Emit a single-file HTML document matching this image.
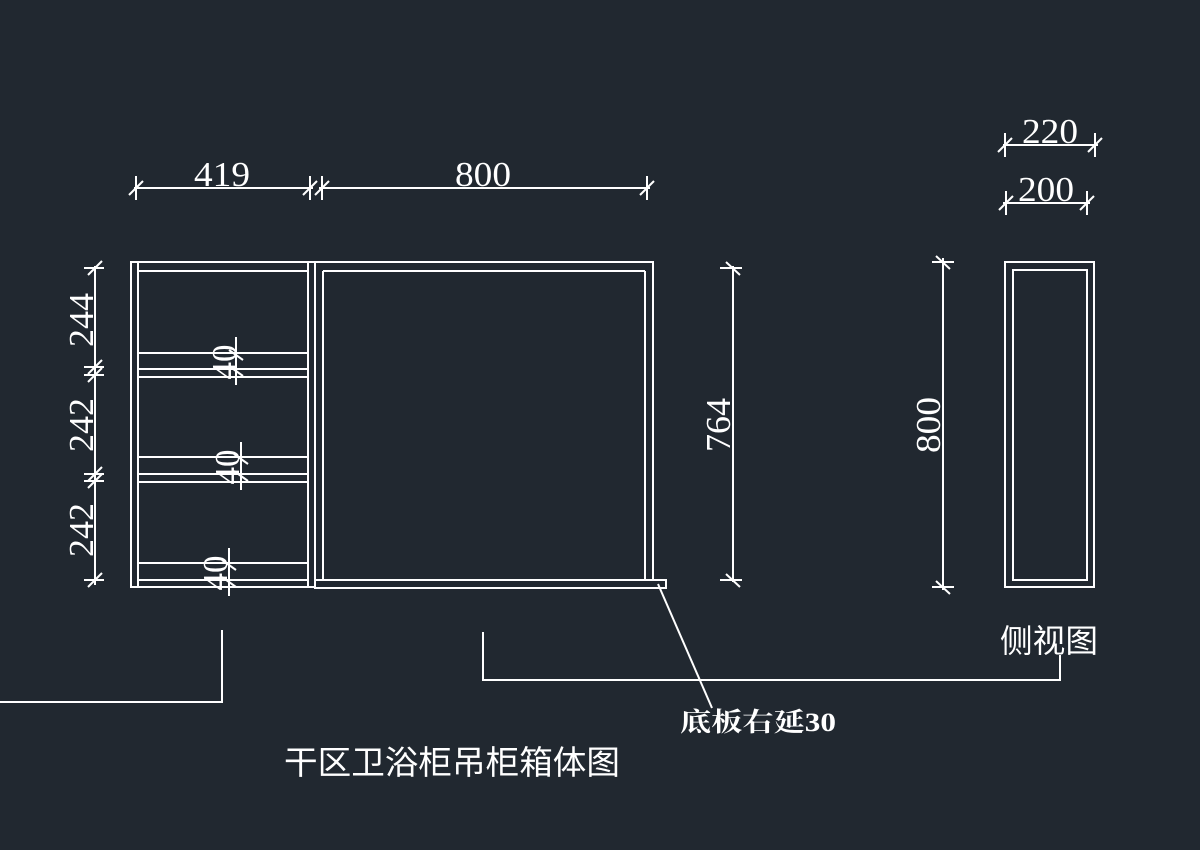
<!DOCTYPE html>
<html><head><meta charset="utf-8"><style>
html,body{margin:0;padding:0;background:#212830;}
svg{display:block}
text{fill:#fff;font-family:"Liberation Serif",serif;}
</style></head><body>
<svg width="1200" height="850" viewBox="0 0 1200 850" xmlns="http://www.w3.org/2000/svg">
<rect width="1200" height="850" fill="#212830"/>
<g stroke="#fff" stroke-width="2" fill="none">
<rect x="131" y="262" width="184" height="325"/>
<line x1="138" y1="262" x2="138" y2="587"/>
<line x1="308" y1="262" x2="308" y2="587"/>
<line x1="138" y1="271" x2="308" y2="271"/>
<line x1="138" y1="353" x2="308" y2="353"/>
<line x1="138" y1="369" x2="308" y2="369"/>
<line x1="138" y1="377" x2="308" y2="377"/>
<line x1="138" y1="457" x2="308" y2="457"/>
<line x1="138" y1="474" x2="308" y2="474"/>
<line x1="138" y1="482" x2="308" y2="482"/>
<line x1="138" y1="563" x2="308" y2="563"/>
<line x1="138" y1="580" x2="308" y2="580"/>
<rect x="315" y="262" width="338" height="318"/>
<line x1="323" y1="271" x2="645" y2="271"/>
<line x1="323" y1="271" x2="323" y2="580"/>
<line x1="645" y1="271" x2="645" y2="580"/>
<rect x="315" y="580" width="351" height="8"/>
<line x1="658" y1="584" x2="712" y2="708"/>
<rect x="1005" y="262" width="89" height="325"/>
<rect x="1013" y="270" width="74" height="310"/>
<line x1="95" y1="266" x2="95" y2="585"/>
<line x1="84" y1="268" x2="104" y2="268"/><line x1="88" y1="275" x2="102" y2="261"/>
<line x1="84" y1="367" x2="104" y2="367"/><line x1="88" y1="374" x2="102" y2="360"/>
<line x1="84" y1="375" x2="104" y2="375"/><line x1="88" y1="382" x2="102" y2="368"/>
<line x1="84" y1="474" x2="104" y2="474"/><line x1="88" y1="481" x2="102" y2="467"/>
<line x1="84" y1="481" x2="104" y2="481"/><line x1="88" y1="488" x2="102" y2="474"/>
<line x1="84" y1="580" x2="104" y2="580"/><line x1="88" y1="587" x2="102" y2="573"/>
<line x1="236" y1="337" x2="236" y2="385"/><line x1="229" y1="350" x2="243" y2="360"/><line x1="229" y1="366" x2="243" y2="376"/>
<line x1="241" y1="442" x2="241" y2="490"/><line x1="234" y1="454" x2="248" y2="464"/><line x1="234" y1="471" x2="248" y2="481"/>
<line x1="229" y1="548" x2="229" y2="596"/><line x1="222" y1="560" x2="236" y2="570"/><line x1="222" y1="577" x2="236" y2="587"/>
<line x1="134" y1="188" x2="313" y2="188"/>
<line x1="136" y1="176" x2="136" y2="200"/><line x1="129" y1="195" x2="143" y2="181"/>
<line x1="310" y1="176" x2="310" y2="200"/><line x1="303" y1="195" x2="317" y2="181"/>
<line x1="319" y1="188" x2="650" y2="188"/>
<line x1="322" y1="176" x2="322" y2="200"/><line x1="315" y1="195" x2="329" y2="181"/>
<line x1="647" y1="176" x2="647" y2="200"/><line x1="640" y1="195" x2="654" y2="181"/>
<line x1="733" y1="266" x2="733" y2="582"/>
<line x1="720" y1="268" x2="742" y2="268"/><line x1="726" y1="262" x2="740" y2="275"/>
<line x1="720" y1="580" x2="742" y2="580"/><line x1="726" y1="574" x2="740" y2="587"/>
<line x1="943" y1="258" x2="943" y2="590"/>
<line x1="932" y1="262" x2="954" y2="262"/><line x1="936" y1="256" x2="950" y2="269"/>
<line x1="932" y1="587" x2="954" y2="587"/><line x1="936" y1="581" x2="950" y2="594"/>
<line x1="1003" y1="145" x2="1098" y2="145"/>
<line x1="1005" y1="133" x2="1005" y2="157"/><line x1="998" y1="152" x2="1012" y2="138"/>
<line x1="1095" y1="133" x2="1095" y2="157"/><line x1="1088" y1="152" x2="1102" y2="138"/>
<line x1="1003" y1="203" x2="1090" y2="203"/>
<line x1="1006" y1="191" x2="1006" y2="215"/><line x1="999" y1="210" x2="1013" y2="196"/>
<line x1="1087" y1="191" x2="1087" y2="215"/><line x1="1080" y1="210" x2="1094" y2="196"/>
<polyline points="0,702 222,702 222,630"/>
<polyline points="483,632 483,680 1060,680 1060,655"/>
</g>
<g font-size="35">
<text x="222" y="186" text-anchor="middle" textLength="56" lengthAdjust="spacingAndGlyphs">419</text>
<text x="483" y="186" text-anchor="middle" textLength="56" lengthAdjust="spacingAndGlyphs">800</text>
<text x="1050" y="143" text-anchor="middle" textLength="56" lengthAdjust="spacingAndGlyphs">220</text>
<text x="1046" y="201" text-anchor="middle" textLength="56" lengthAdjust="spacingAndGlyphs">200</text>
<text transform="translate(93,320) rotate(-90)" text-anchor="middle" textLength="54" lengthAdjust="spacingAndGlyphs">244</text>
<text transform="translate(93,425) rotate(-90)" text-anchor="middle" textLength="54" lengthAdjust="spacingAndGlyphs">242</text>
<text transform="translate(93,530) rotate(-90)" text-anchor="middle" textLength="54" lengthAdjust="spacingAndGlyphs">242</text>
<text transform="translate(730,425) rotate(-90)" text-anchor="middle" textLength="54" lengthAdjust="spacingAndGlyphs">764</text>
<text transform="translate(940,425) rotate(-90)" text-anchor="middle" textLength="56" lengthAdjust="spacingAndGlyphs">800</text>
<text transform="translate(236,362) rotate(-90)" text-anchor="middle">40</text>
<text transform="translate(239,467) rotate(-90)" text-anchor="middle">40</text>
<text transform="translate(227,573) rotate(-90)" text-anchor="middle">40</text>
</g>
<text x="1000" y="652" font-size="32" textLength="98" lengthAdjust="spacingAndGlyphs" style="font-family:'Liberation Sans','Noto Sans CJK SC',sans-serif">侧视图</text>
<text x="680" y="731" font-size="26" font-weight="bold" textLength="156" lengthAdjust="spacingAndGlyphs" style="font-family:'Liberation Serif','Noto Serif CJK SC',serif">底板右延30</text>
<text x="284" y="774" font-size="33" textLength="336" lengthAdjust="spacingAndGlyphs" style="font-family:'Liberation Sans','Noto Sans CJK SC',sans-serif">干区卫浴柜吊柜箱体图</text>
</svg>
</body></html>
